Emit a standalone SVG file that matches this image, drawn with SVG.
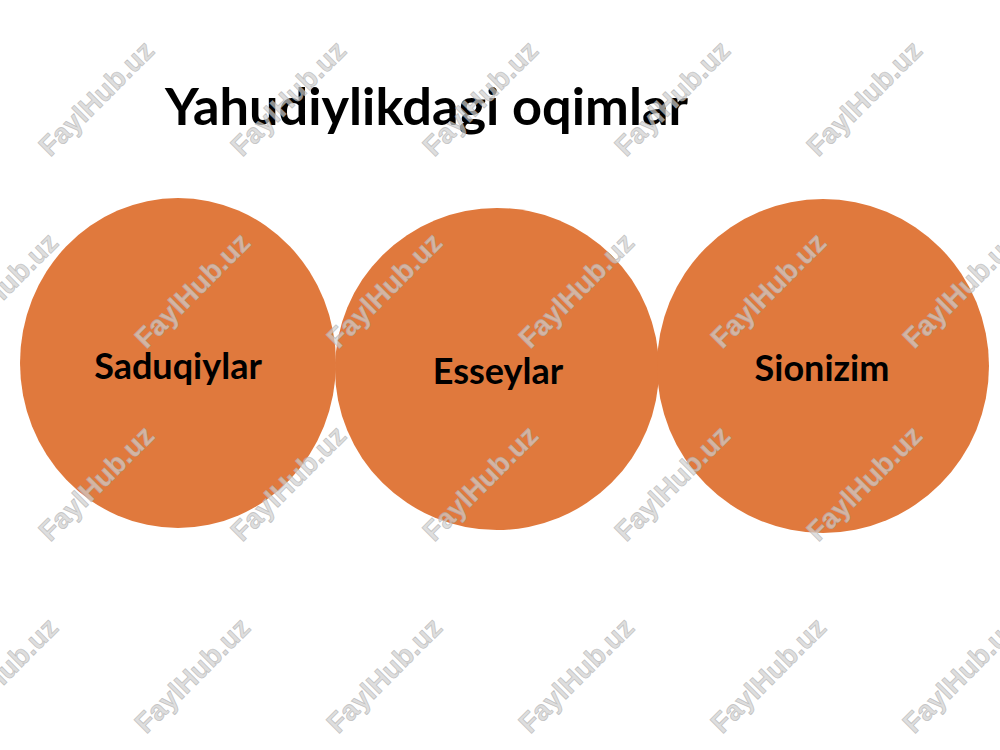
<svg xmlns="http://www.w3.org/2000/svg" width="1000" height="750" viewBox="0 0 1000 750">
<style>
.node{fill:#E0793D;}
.lbl{font-family:Lato,"Open Sans","Liberation Sans",sans-serif;font-weight:bold;font-size:36px;fill:#000;text-anchor:middle;}
.title{font-family:Lato,"Open Sans","Liberation Sans",sans-serif;font-weight:bold;font-size:51px;fill:#000;}
.wm{font-family:"Liberation Sans",Arial,sans-serif;font-weight:bold;font-size:28px;fill:#d0d0d0;fill-opacity:0.7;stroke:#a8a8a8;stroke-opacity:0.6;stroke-width:0.8;text-anchor:middle;}
</style>
<rect width="1000" height="750" fill="#fff"/>
<text class="title" x="165" y="125" textLength="523" lengthAdjust="spacingAndGlyphs">Yahudiylikdagi oqimlar</text>
<g id="saduqiylar">
<ellipse class="node" cx="178" cy="363" rx="158" ry="165"/>
<text class="lbl" x="178" y="379">Saduqiylar</text>
</g>
<g id="esseylar">
<ellipse class="node" cx="497" cy="369" rx="162" ry="161"/>
<text class="lbl" x="498" y="384">Esseylar</text>
</g>
<g id="sionizim">
<ellipse class="node" cx="823" cy="366" rx="166" ry="167"/>
<text class="lbl" x="822" y="381">Sionizim</text>
</g>
<g id="connectors"/>
<g id="watermarks">
<text class="wm" transform="translate(96,98) rotate(-45)" y="10">FaylHub.uz</text>
<text class="wm" transform="translate(288,98) rotate(-45)" y="10">FaylHub.uz</text>
<text class="wm" transform="translate(480,98) rotate(-45)" y="10">FaylHub.uz</text>
<text class="wm" transform="translate(672,98) rotate(-45)" y="10">FaylHub.uz</text>
<text class="wm" transform="translate(864,98) rotate(-45)" y="10">FaylHub.uz</text>
<text class="wm" transform="translate(0,290) rotate(-45)" y="10">FaylHub.uz</text>
<text class="wm" transform="translate(192,290) rotate(-45)" y="10">FaylHub.uz</text>
<text class="wm" transform="translate(384,290) rotate(-45)" y="10">FaylHub.uz</text>
<text class="wm" transform="translate(576,290) rotate(-45)" y="10">FaylHub.uz</text>
<text class="wm" transform="translate(768,290) rotate(-45)" y="10">FaylHub.uz</text>
<text class="wm" transform="translate(960,290) rotate(-45)" y="10">FaylHub.uz</text>
<text class="wm" transform="translate(96,483) rotate(-45)" y="10">FaylHub.uz</text>
<text class="wm" transform="translate(288,483) rotate(-45)" y="10">FaylHub.uz</text>
<text class="wm" transform="translate(480,483) rotate(-45)" y="10">FaylHub.uz</text>
<text class="wm" transform="translate(672,483) rotate(-45)" y="10">FaylHub.uz</text>
<text class="wm" transform="translate(864,483) rotate(-45)" y="10">FaylHub.uz</text>
<text class="wm" transform="translate(0,675) rotate(-45)" y="10">FaylHub.uz</text>
<text class="wm" transform="translate(192,675) rotate(-45)" y="10">FaylHub.uz</text>
<text class="wm" transform="translate(384,675) rotate(-45)" y="10">FaylHub.uz</text>
<text class="wm" transform="translate(576,675) rotate(-45)" y="10">FaylHub.uz</text>
<text class="wm" transform="translate(768,675) rotate(-45)" y="10">FaylHub.uz</text>
<text class="wm" transform="translate(960,675) rotate(-45)" y="10">FaylHub.uz</text>
</g>
</svg>
